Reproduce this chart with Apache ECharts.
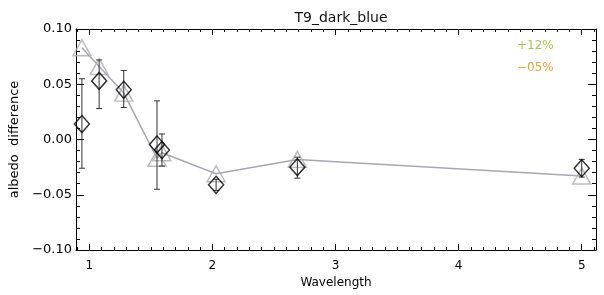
<!DOCTYPE html>
<html>
<head>
<meta charset="utf-8">
<script src="https://cdn.jsdelivr.net/npm/echarts@6/dist/echarts.min.js"></script>
<style>
  html, body { margin: 0; padding: 0; background: #fff; }
  #chart { width: 604px; height: 295px; }
</style>
</head>
<body>
<div id="chart"></div>
<script>
// wavelength of each band
var wavelength = [0.94, 1.08, 1.28, 1.55, 1.59, 2.03, 2.69, 5.0]
// model (grey triangles + line)
var modelDiff = [0.083, 0.066, 0.042, -0.017, -0.012, -0.031, -0.018, -0.033]
// observed (black diamonds) and error range
var obsDiff = [0.014, 0.053, 0.045, -0.0045, -0.0095, -0.041, -0.025, -0.026]
var obsLow = [-0.026, 0.028, 0.029, -0.045, -0.024, -0.046, -0.035, -0.034]
var obsHigh = [0.055, 0.072, 0.0625, 0.035, 0.005, -0.036, -0.016, -0.018]

var xMajorTicks = [1, 2, 3, 4, 5]
var xMinorTicks = []
for (var i = 9; i <= 51; i++) xMinorTicks.push(i / 10)

var legendTexts = ['+12%', '\u221205%']
var legendColors = ['#a6c84c', '#f5a235']

var font = 'DejaVu Sans'

var modelData = wavelength.map(function (w, i) { return [w, modelDiff[i]] })
var obsData = wavelength.map(function (w, i) { return [w, obsDiff[i]] })
var errData = wavelength.map(function (w, i) { return [w, obsLow[i], obsHigh[i]] })

function xAxisDef (pos, ticks, len, showLine, showLabel) {
  return {
    type: 'value',
    position: pos,
    min: 0.892,
    max: 5.116,
    axisLine: { show: showLine, onZero: false, lineStyle: { color: '#000', width: 1 } },
    axisTick: { show: true, inside: true, length: len, customValues: ticks, lineStyle: { color: '#000' } },
    axisLabel: {
      show: showLabel,
      customValues: xMajorTicks,
      margin: 10,
      color: '#000',
      fontFamily: font,
      fontSize: 12
    },
    splitLine: { show: false }
  }
}

function yAxisDef (pos, showLabel) {
  return {
    type: 'value',
    position: pos,
    min: -0.1,
    max: 0.1,
    interval: 0.05,
    name: showLabel ? 'albedo  difference' : '',
    nameLocation: 'middle',
    nameGap: 50,
    nameTextStyle: { color: '#000', fontFamily: font, fontSize: 13 },
    axisLine: { show: true, onZero: false, lineStyle: { color: '#000', width: 1 } },
    axisTick: { show: true, inside: true, length: 8, lineStyle: { color: '#000' } },
    minorTick: { show: true, splitNumber: 5, length: 4, lineStyle: { color: '#000' } },
    axisLabel: {
      show: showLabel,
      margin: 4,
      color: '#000',
      fontFamily: font,
      fontSize: 13,
      formatter: function (v) { return v.toFixed(2).replace('-', '\u2212') }
    },
    splitLine: { show: false }
  }
}

var xAxes = [
  xAxisDef('bottom', xMajorTicks, 6, true, true),
  xAxisDef('bottom', xMinorTicks, 3, false, false),
  xAxisDef('top', xMajorTicks, 6, true, false),
  xAxisDef('top', xMinorTicks, 3, false, false)
]
xAxes[0].name = 'Wavelength'
xAxes[0].nameLocation = 'middle'
xAxes[0].nameGap = 26
xAxes[0].nameTextStyle = { color: '#000', fontFamily: font, fontSize: 12 }

var option = {
  animation: false,
  backgroundColor: '#fff',
  title: {
    text: 'T9_dark_blue',
    left: 336,
    top: 6,
    textAlign: 'center',
    textStyle: { color: '#111', fontFamily: font, fontSize: 14, fontWeight: 'normal' }
  },
  grid: { left: 76, right: 8, top: 29, bottom: 45 },
  xAxis: xAxes,
  yAxis: [yAxisDef('left', true), yAxisDef('right', false)],
  graphic: legendTexts.map(function (t, i) {
    return {
      type: 'text',
      left: 517,
      top: 40 + i * 22,
      style: { text: t, fill: legendColors[i], font: '12px "' + font + '"' }
    }
  }),
  series: [
    {
      type: 'line',
      data: modelData,
      showSymbol: false,
      lineStyle: { color: '#aaa6b2', width: 1.5 },
      z: 2
    },
    {
      type: 'scatter',
      data: modelData,
      symbol: 'triangle',
      symbolSize: [18, 16],
      itemStyle: { color: 'none', borderColor: '#acacb0', borderWidth: 1.5 },
      z: 3
    },
    {
      type: 'custom',
      data: errData,
      renderItem: function (params, api) {
        var x = api.value(0)
        var lo = api.coord([x, api.value(1)])
        var hi = api.coord([x, api.value(2)])
        var cap = 3
        var st = { stroke: '#333', lineWidth: 1 }
        return {
          type: 'group',
          children: [
            { type: 'line', shape: { x1: lo[0], y1: lo[1], x2: hi[0], y2: hi[1] }, style: st },
            { type: 'line', shape: { x1: lo[0] - cap, y1: lo[1], x2: lo[0] + cap, y2: lo[1] }, style: st },
            { type: 'line', shape: { x1: hi[0] - cap, y1: hi[1], x2: hi[0] + cap, y2: hi[1] }, style: st }
          ]
        }
      },
      z: 4
    },
    {
      type: 'scatter',
      data: obsData,
      symbol: 'diamond',
      symbolSize: [15, 17],
      itemStyle: { color: 'none', borderColor: '#000', borderWidth: 1.5 },
      z: 5
    }
  ]
}

var myChart = echarts.init(document.getElementById('chart'))
myChart.setOption(option)
</script>
</body>
</html>
